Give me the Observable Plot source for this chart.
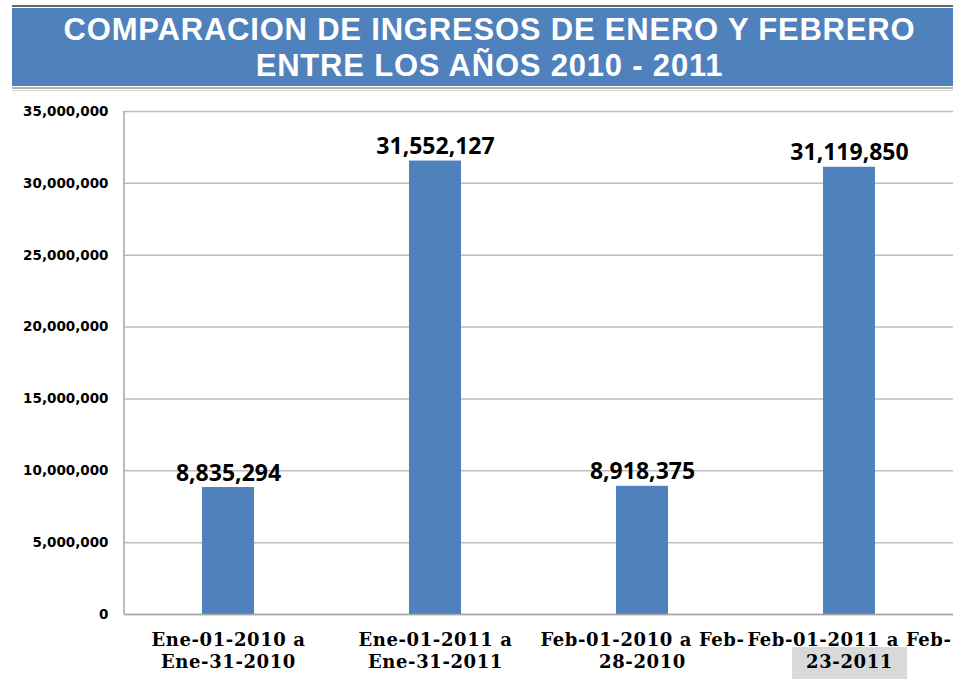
<!DOCTYPE html>
<html>
<head>
<meta charset="utf-8">
<script src="https://cdn.jsdelivr.net/npm/d3@7"></script>
<script src="https://cdn.jsdelivr.net/npm/@observablehq/plot@0.6"></script>
<style>
  html, body { margin: 0; padding: 0; background: #fff; }
  #wrap { position: relative; width: 953px; height: 679px; overflow: hidden; }
  #topline { position: absolute; left: 12px; top: 5px; width: 941px; height: 2px; background: #666; }
  #banner { position: absolute; left: 12px; top: 8px; width: 941px; height: 78px; background: #4f81bd;
    color: #fff; font-family: "Liberation Sans", Arial, sans-serif; font-weight: bold; font-size: 31px;
    letter-spacing: 0.8px; text-align: center; line-height: 36px; padding-top: 4px; padding-left: 14px; box-sizing: border-box; }
  #underline { position: absolute; left: 12px; top: 87px; width: 941px; height: 4px; border-top: 2px solid #b0b0b0; border-bottom: 1px solid #d8d8d8; box-sizing: border-box; }
  #chart { position: absolute; left: 0; top: 95px; }
</style>
</head>
<body>
<div id="wrap">
  <div id="topline"></div>
  <div id="banner"><div>COMPARACION DE INGRESOS DE ENERO Y FEBRERO</div><div>ENTRE LOS AÑOS 2010 - 2011</div></div>
  <div id="underline"></div>
  <div id="chart"></div>
</div>
<script>
const categories = [
  "Ene-01-2010 a\nEne-31-2010",
  "Ene-01-2011 a\nEne-31-2011",
  "Feb-01-2010 a Feb-\n28-2010",
  "Feb-01-2011 a Feb-\n23-2011"
];
const values = [8835294, 31552127, 8918375, 31119850];
const yTicks = [0, 5000000, 10000000, 15000000, 20000000, 25000000, 30000000, 35000000];

const data = categories.map((c, i) => ({category: c, value: values[i]}));
const fmt = d3.format(",");

const chart = Plot.plot({
  width: 953,
  height: 584,
  marginLeft: 124,
  marginRight: 0,
  marginTop: 16,
  marginBottom: 65,
  style: {background: "transparent"},
  x: {domain: categories, paddingInner: 0.75, paddingOuter: 0.375, label: null},
  y: {domain: [0, 35000000], label: null},
  marks: [
    Plot.gridY(yTicks, {stroke: "#bdbdbd", strokeOpacity: 1, strokeWidth: 1.5}),
    Plot.axisY(yTicks, {tickSize: 0, tickPadding: 16, tickFormat: fmt, fontSize: 13.5, fontWeight: "bold",
      fontFamily: "DejaVu Sans", fill: "#000", label: null}),
    Plot.axisX({tickSize: 0, tickPadding: 16, fontSize: 18, fontWeight: "bold", fontFamily: "DejaVu Serif",
      fill: "#000", stroke: "#000", strokeWidth: 0.4, lineHeight: 1.22, label: null}),
    Plot.barY(data, {x: "category", y: "value", fill: "#4f81bd"}),
    Plot.text(data, {x: "category", y: "value", text: d => fmt(d.value), lineAnchor: "bottom", dy: -7,
      fontSize: 23, fontWeight: "bold", fontFamily: "Open Sans", fill: "#000"}),
    Plot.ruleY([0], {stroke: "#a6a6a6", strokeWidth: 1.5})
  ]
});
document.getElementById("chart").appendChild(chart);
d3.select(chart).selectAll('g[aria-label="x-axis tick label"] text').style("letter-spacing", "0.6px");

// vertical axis line along the left edge of the plot area
const ys = chart.scale("y");
d3.select(chart).append("line")
  .attr("x1", 124).attr("x2", 124)
  .attr("y1", ys.apply(35000000)).attr("y2", ys.apply(0))
  .attr("stroke", "#a6a6a6").attr("stroke-width", 1.5);

// gray highlight behind the last category's second line
const xTexts = d3.select(chart).selectAll('g[aria-label="x-axis tick label"] text').nodes();
const last = xTexts[xTexts.length - 1];
if (last) {
  const tspans = last.querySelectorAll("tspan");
  const t = tspans[tspans.length - 1] || last;
  const bb = t.getBBox();
  const r = document.createElementNS("http://www.w3.org/2000/svg", "rect");
  const tr = last.getAttribute("transform");
  r.setAttribute("x", bb.x - 14);
  r.setAttribute("y", bb.y - 4);
  r.setAttribute("width", bb.width + 28);
  r.setAttribute("height", bb.height + 20);
  r.setAttribute("fill", "#d9d9d9");
  r.setAttribute("stroke", "none");
  if (tr) r.setAttribute("transform", tr);
  last.parentNode.insertBefore(r, last);
}
</script>
</body>
</html>
